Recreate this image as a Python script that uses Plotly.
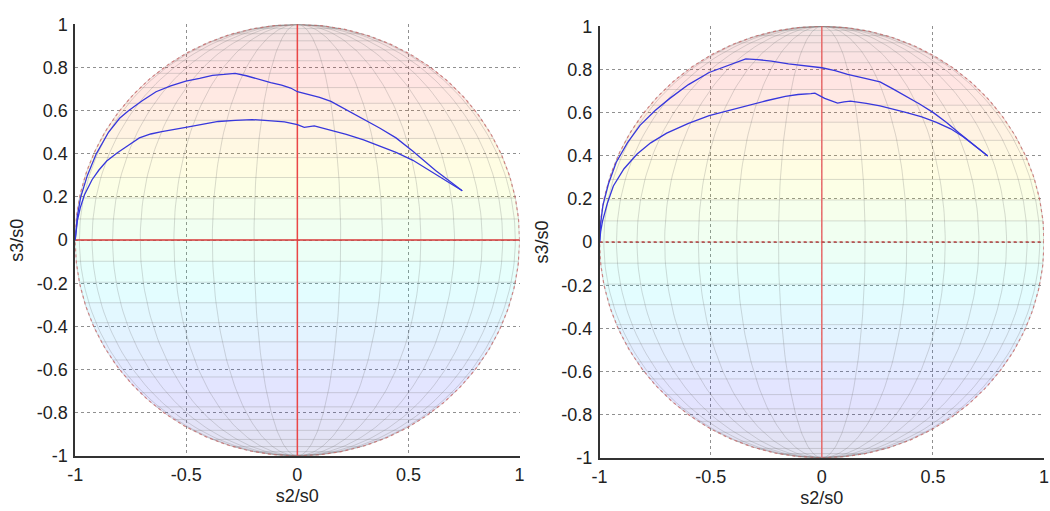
import numpy as np
import plotly.graph_objects as go

# ---- measured polarization trajectories (normalized Stokes s2/s0, s3/s0) ----
left_outer_s2 = [-1.0, -0.996, -0.99, -0.975, -0.945, -0.905, -0.85, -0.80, -0.76,
                 -0.70, -0.636, -0.57, -0.502, -0.44, -0.382, -0.33, -0.28, -0.23, -0.178,
                 -0.12, -0.071, -0.03, 0.0, 0.05, 0.10, 0.151, 0.22, 0.298, 0.37, 0.444,
                 0.52, 0.622, 0.742]
left_outer_s3 = [0.0, 0.05, 0.11, 0.20, 0.30, 0.40, 0.50, 0.565, 0.60,
                 0.645, 0.688, 0.715, 0.737, 0.75, 0.764, 0.768, 0.773, 0.762, 0.746,
                 0.73, 0.719, 0.705, 0.688, 0.675, 0.662, 0.643, 0.605, 0.563, 0.52, 0.474,
                 0.412, 0.323, 0.229]

left_inner_s2 = [-1.0, -0.996, -0.99, -0.977, -0.958, -0.924, -0.893, -0.858, -0.81, -0.76,
                 -0.711, -0.66, -0.61, -0.502, -0.42, -0.356, -0.28, -0.204, -0.147, -0.058,
                 0.0, 0.031, 0.076, 0.151, 0.22, 0.298, 0.37, 0.444, 0.52, 0.596, 0.67, 0.742]
left_inner_s3 = [0.0, 0.04, 0.09, 0.15, 0.21, 0.28, 0.325, 0.367, 0.405, 0.44,
                 0.474, 0.492, 0.503, 0.523, 0.54, 0.55, 0.555, 0.559, 0.555, 0.548,
                 0.535, 0.523, 0.53, 0.51, 0.49, 0.465, 0.437, 0.407, 0.37, 0.323, 0.275, 0.229]

right_outer_s2 = [-1.0, -0.996, -0.985, -0.96, -0.925, -0.875, -0.818, -0.75, -0.684, -0.60,
                  -0.507, -0.418, -0.342, -0.29, -0.227, -0.15, -0.076, 0.0, 0.06, 0.116,
                  0.19, 0.262, 0.32, 0.382, 0.44, 0.502, 0.56, 0.618, 0.68, 0.747]
right_outer_s3 = [0.0, 0.08, 0.17, 0.27, 0.37, 0.46, 0.541, 0.61, 0.666, 0.73,
                  0.786, 0.822, 0.849, 0.846, 0.839, 0.826, 0.817, 0.808, 0.795, 0.777,
                  0.76, 0.742, 0.71, 0.675, 0.64, 0.60, 0.555, 0.505, 0.455, 0.399]

right_inner_s2 = [-1.0, -0.995, -0.987, -0.965, -0.938, -0.89, -0.831, -0.77, -0.698, -0.60,
                  -0.507, -0.42, -0.342, -0.25, -0.164, -0.107, -0.049, -0.031, 0.013, 0.04,
                  0.071, 0.10, 0.129, 0.20, 0.262, 0.382, 0.45, 0.516, 0.58, 0.636, 0.69, 0.747]
right_inner_s3 = [0.0, 0.05, 0.096, 0.18, 0.26, 0.34, 0.408, 0.46, 0.505, 0.55,
                  0.586, 0.61, 0.63, 0.655, 0.675, 0.684, 0.688, 0.69, 0.666, 0.655,
                  0.644, 0.65, 0.653, 0.643, 0.631, 0.60, 0.58, 0.555, 0.525, 0.488, 0.445, 0.399]

x_ticks = [-1, -0.5, 0, 0.5, 1]
x_tick_text = ["-1", "-0.5", "0", "0.5", "1"]
y_ticks = [-1, -0.8, -0.6, -0.4, -0.2, 0, 0.2, 0.4, 0.6, 0.8, 1]
y_tick_text = ["-1", "-0.8", "-0.6", "-0.4", "-0.2", "0", "0.2", "0.4", "0.6", "0.8", "1"]

N_SPHERE = 32          # sphere mesh resolution
FACE_ALPHA = 0.11


def jet(t):
    t = min(max(t, 0.0), 1.0)
    r = min(max(1.5 - abs(4 * t - 3), 0), 1)
    g = min(max(1.5 - abs(4 * t - 2), 0), 1)
    b = min(max(1.5 - abs(4 * t - 1), 0), 1)
    return int(round(r * 255)), int(round(g * 255)), int(round(b * 255))


def sphere_traces(xa, ya):
    traces = []
    lats = np.linspace(-np.pi / 2, np.pi / 2, N_SPHERE + 1)
    # coloured latitude bands (flat shading by lower edge height)
    for k in range(N_SPHERE):
        y0, y1 = np.sin(lats[k]), np.sin(lats[k + 1])
        ys = np.linspace(y0, y1, 8)
        xr = np.sqrt(np.clip(1 - ys ** 2, 0, None))
        px = np.concatenate([xr, -xr[::-1]])
        py = np.concatenate([ys, ys[::-1]])
        r, g, b = jet((y0 + 1) / 2)
        traces.append(go.Scatter(x=px, y=py, xaxis=xa, yaxis=ya, mode="lines",
                                 line=dict(width=0), fill="toself",
                                 fillcolor=f"rgba({r},{g},{b},{FACE_ALPHA})",
                                 hoverinfo="skip", showlegend=False))
    # meridians
    mx, my = [], []
    lat_fine = np.linspace(-np.pi / 2, np.pi / 2, 121)
    for lon in np.linspace(-np.pi / 2, np.pi / 2, N_SPHERE // 2 + 1):
        mx += list(np.sin(lon) * np.cos(lat_fine)) + [None]
        my += list(np.sin(lat_fine)) + [None]
    # parallels
    for lat in lats[1:-1]:
        c = np.cos(lat)
        mx += [-c, c, None]
        my += [np.sin(lat), np.sin(lat), None]
    traces.append(go.Scatter(x=mx, y=my, xaxis=xa, yaxis=ya, mode="lines",
                             line=dict(color="rgba(110,110,110,0.25)", width=1),
                             hoverinfo="skip", showlegend=False))
    # outline
    th = np.linspace(0, 2 * np.pi, 361)
    traces.append(go.Scatter(x=np.cos(th), y=np.sin(th), xaxis=xa, yaxis=ya, mode="lines",
                             line=dict(color="rgba(200,100,100,0.75)", width=1.2, dash="dot"),
                             hoverinfo="skip", showlegend=False))
    return traces


def axis_cross(xa, ya, vcol, hcol, hdash):
    return [
        go.Scatter(x=[0, 0], y=[-1, 1], xaxis=xa, yaxis=ya, mode="lines",
                   line=dict(color=vcol, width=1.5), hoverinfo="skip", showlegend=False),
        go.Scatter(x=[-1, 1], y=[0, 0], xaxis=xa, yaxis=ya, mode="lines",
                   line=dict(color=hcol, width=1.5, dash=hdash), hoverinfo="skip", showlegend=False),
    ]


def curve(xs, ys, xa, ya):
    return go.Scatter(x=xs, y=ys, xaxis=xa, yaxis=ya, mode="lines",
                      line=dict(color="rgb(55,55,220)", width=1.3),
                      hoverinfo="skip", showlegend=False)


fig = go.Figure()
for t in sphere_traces("x", "y"):
    fig.add_trace(t)
for t in axis_cross("x", "y", "rgb(235,70,70)", "rgb(220,60,60)", "solid"):
    fig.add_trace(t)
fig.add_trace(curve(left_outer_s2, left_outer_s3, "x", "y"))
fig.add_trace(curve(left_inner_s2, left_inner_s3, "x", "y"))

for t in sphere_traces("x2", "y2"):
    fig.add_trace(t)
for t in axis_cross("x2", "y2", "rgb(235,110,110)", "rgb(190,70,70)", "dot"):
    fig.add_trace(t)
fig.add_trace(curve(right_outer_s2, right_outer_s3, "x2", "y2"))
fig.add_trace(curve(right_inner_s2, right_inner_s3, "x2", "y2"))

font = dict(family="Liberation Sans, Arial, sans-serif", size=18, color="#222")

grid = dict(showgrid=True, gridcolor="rgba(70,70,70,0.6)", griddash="dot", gridwidth=1,
            zeroline=False, showline=True, linecolor="#333", linewidth=1.5,
            ticks="", tickfont=font, mirror=False)

xaxis_common = dict(range=[-1, 1], tickvals=x_ticks, ticktext=x_tick_text,
                    ticklabelstandoff=2,
                    title=dict(text="s2/s0", font=font, standoff=5), **grid)
yaxis_common = dict(range=[-1, 1], tickvals=y_ticks, ticktext=y_tick_text,
                    ticklabelstandoff=2,
                    title=dict(text="s3/s0", font=font, standoff=8), **grid)

fig.update_layout(
    width=1050, height=511,
    margin=dict(l=0, r=0, t=0, b=0),
    paper_bgcolor="white", plot_bgcolor="white",
    xaxis=dict(domain=[68 / 1050, 518 / 1050], anchor="y", **xaxis_common),
    yaxis=dict(domain=[47 / 511, 496 / 511], anchor="x", **yaxis_common),
    xaxis2=dict(domain=[599 / 1050, 1049 / 1050], anchor="y2", **xaxis_common),
    yaxis2=dict(domain=[45 / 511, 494 / 511], anchor="x2", **yaxis_common),
)

fig.write_html("out.html")
